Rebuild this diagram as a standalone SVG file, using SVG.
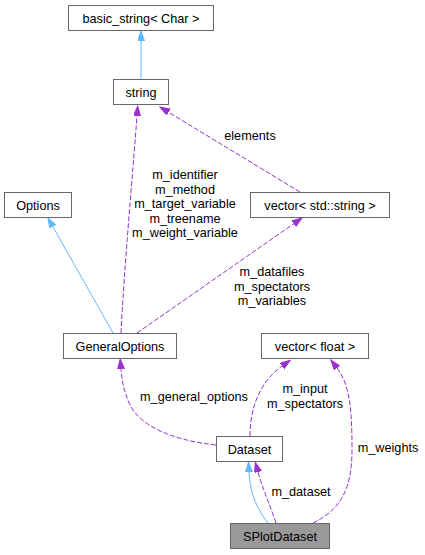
<svg xmlns="http://www.w3.org/2000/svg" width="425" height="555" viewBox="0 0 425 555">
<style>
text{font-family:"Liberation Sans",Arial,sans-serif;font-size:12.7px;fill:#000;text-anchor:middle}
.node rect{fill:#fff;stroke:#666;stroke-width:1}
.inh{fill:none;stroke:#63b8ff;stroke-width:1}
.use{fill:none;stroke:#9a32cd;stroke-width:1;stroke-dasharray:5,2}
</style>
<defs>
<marker id="ab" markerUnits="userSpaceOnUse" markerWidth="11" markerHeight="8" refX="0" refY="3.5" orient="auto" viewBox="0 0 11 8"><path d="M0,0 L10,3.5 L0,7 z" fill="#63b8ff" stroke="#63b8ff"/></marker>
<marker id="ap" markerUnits="userSpaceOnUse" markerWidth="11" markerHeight="8" refX="0" refY="3.5" orient="auto" viewBox="0 0 11 8"><path d="M0,0 L10,3.5 L0,7 z" fill="#9a32cd" stroke="#9a32cd"/></marker>
</defs>
<g id="edges">
<path class="inh" d="M141,79 L141,41" marker-end="url(#ab)"/>
<path class="use" d="M121,333 C124,270 133,170 137,116" marker-end="url(#ap)"/>
<path class="use" d="M300,192 L168.5,112.2" marker-end="url(#ap)"/>
<path class="use" d="M137,333 L293.8,223.7" marker-end="url(#ap)"/>
<path class="inh" d="M113,333 L52.9,226.7" marker-end="url(#ab)"/>
<path class="use" d="M216,445 C170,440 140,425 130,405 C124,392 122,382 121,369" marker-end="url(#ap)"/>
<path class="use" d="M250,436 C250,405 262,380 282,366" marker-end="url(#ap)"/>
<path class="use" d="M313,523 C340,510 352,490 352,450 C352,410 350,385 337,368" marker-end="url(#ap)"/>
<path class="inh" d="M268,523 C258,510 250,495 249,472" marker-end="url(#ab)"/>
<path class="use" d="M276,523 C270,505 263,490 258,472" marker-end="url(#ap)"/>
<text x="250" y="140">elements</text>
<text x="185" y="179">m_identifier</text>
<text x="185" y="193.5">m_method</text>
<text x="185" y="208">m_target_variable</text>
<text x="185" y="222.5">m_treename</text>
<text x="185" y="237">m_weight_variable</text>
<text x="272" y="276">m_datafiles</text>
<text x="272" y="290.5">m_spectators</text>
<text x="272" y="305">m_variables</text>
<text x="194" y="401">m_general_options</text>
<text x="305" y="393">m_input</text>
<text x="305" y="407.5">m_spectators</text>
<text x="388" y="452">m_weights</text>
<text x="301" y="496">m_dataset</text>
</g>
<g id="basic_string" class="node"><rect x="68.5" y="5.5" width="145" height="25"/><text x="141" y="22.5">basic_string&lt; Char &gt;</text></g>
<g id="string" class="node"><rect x="113.5" y="79.5" width="55" height="25"/><text x="141" y="96.5">string</text></g>
<g id="Options" class="node"><rect x="4.5" y="192.5" width="67" height="25"/><text x="38" y="209.5">Options</text></g>
<g id="vector_string" class="node"><rect x="250.5" y="192.5" width="139" height="25"/><text x="320" y="209.5">vector&lt; std::string &gt;</text></g>
<g id="GeneralOptions" class="node"><rect x="63.5" y="333.5" width="113" height="25"/><text x="120" y="350.5">GeneralOptions</text></g>
<g id="vector_float" class="node"><rect x="261.5" y="333.5" width="107" height="25"/><text x="315" y="350.5">vector&lt; float &gt;</text></g>
<g id="Dataset" class="node"><rect x="216.5" y="436.5" width="66" height="25"/><text x="249.5" y="453.5">Dataset</text></g>
<g id="SPlotDataset" class="node"><rect x="230.5" y="523.5" width="99" height="25" style="fill:#999"/><text x="280" y="540.5">SPlotDataset</text></g>
</svg>
